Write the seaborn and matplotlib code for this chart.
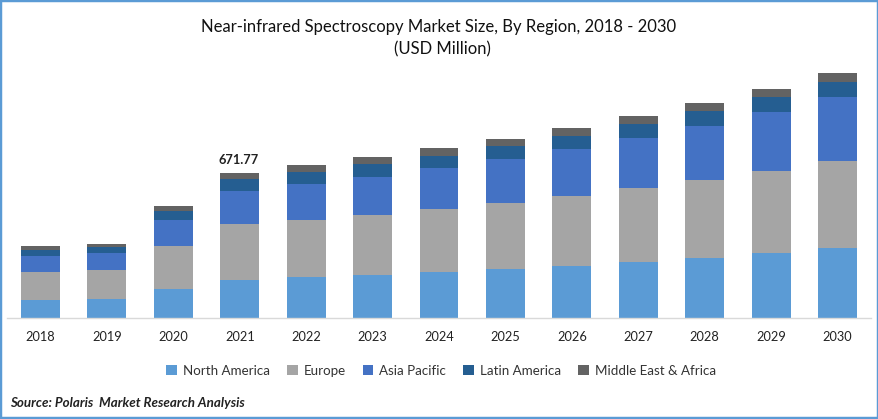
import matplotlib
matplotlib.use("Agg")
import matplotlib.pyplot as plt
from matplotlib.patches import Rectangle
import seaborn as sns

years = ["2018","2019","2020","2021","2022","2023","2024","2025","2026","2027","2028","2029","2030"]
north_america = [83,88,134,176,190,199,213,227,241,259,278,301,324]
europe = [130,134,199,259,264,278,292,306,324,343,361,380,403]
asia_pacific = [74,79,120,153,167,176,190,204,218,232,250,273,297]
latin_america = [28,28,42,56,56,60,56,60,60,65,69,69,69]
middle_east = [19,14,23,28,32,32,37,32,37,37,37,37,42]
series_names = ["North America","Europe","Asia Pacific","Latin America","Middle East & Africa"]
series_colors = ["#5B9BD5","#A5A5A5","#4472C4","#255E91","#636363"]
callout_year = "2021"
callout_label = "671.77"

sns.set_theme(style="white")
plt.rcParams["font.family"] = ["Lato", "DejaVu Sans"]

W, H = 879, 419
fig = plt.figure(figsize=(W/100, H/100), dpi=100, facecolor="white")
ax = fig.add_axes([7.3/W, 1-318/H, 863.4/W, 258/H])

bottom = [0]*len(years)
for name, vals, col in zip(series_names, [north_america, europe, asia_pacific, latin_america, middle_east], series_colors):
    sns.barplot(x=years, y=vals, bottom=bottom, color=col, width=0.587, ax=ax, label=name,
                saturation=1, errorbar=None, linewidth=0, edgecolor="none", legend=False)
    bottom = [b+v for b, v in zip(bottom, vals)]

handles, labels = ax.get_legend_handles_labels()
if ax.get_legend() is not None:
    ax.get_legend().remove()

ax.set_xlim(-0.5, len(years)-0.5)
ax.set_ylim(0, 1195)
ax.set_yticks([])
ax.set_ylabel("")
for s in ["top","left","right"]:
    ax.spines[s].set_visible(False)
ax.spines["bottom"].set_color("#D9D9D9")
ax.spines["bottom"].set_linewidth(1)
ax.tick_params(axis="x", length=0, pad=9.5, labelsize=9.2, labelcolor="#222222")

i = years.index(callout_year)
ax.annotate(callout_label, (i, bottom[i]), xytext=(-0.5, 5), textcoords="offset points",
            ha="center", va="bottom", fontsize=9.3, fontweight="bold", color="#222222")

fig.text(439/W, 1-27/H, "Near-infrared Spectroscopy Market Size, By Region, 2018 - 2030",
         ha="center", va="center", fontsize=12, color="#111111")
fig.text(442.5/W, 1-49/H, "(USD Million)", ha="center", va="center", fontsize=12, color="#111111")

fig.legend(handles, labels, ncol=5, loc="center", bbox_to_anchor=(441/W, 1-370.5/H), frameon=False,
           fontsize=9.6, handlelength=0.8, handleheight=0.8, handletextpad=0.45, columnspacing=1.27,
           labelcolor="#333333")

fig.text(10/W, 1-403/H, "Source: Polaris  Market Research Analysis", ha="left", va="center",
         fontsize=9.6, fontweight="bold", fontstyle="italic", color="#222222")

fig.add_artist(Rectangle((0,0), 1, 1, transform=fig.transFigure, fill=False, edgecolor="#5B9BD5", linewidth=3.2))
fig.savefig("out.png", dpi=100)
